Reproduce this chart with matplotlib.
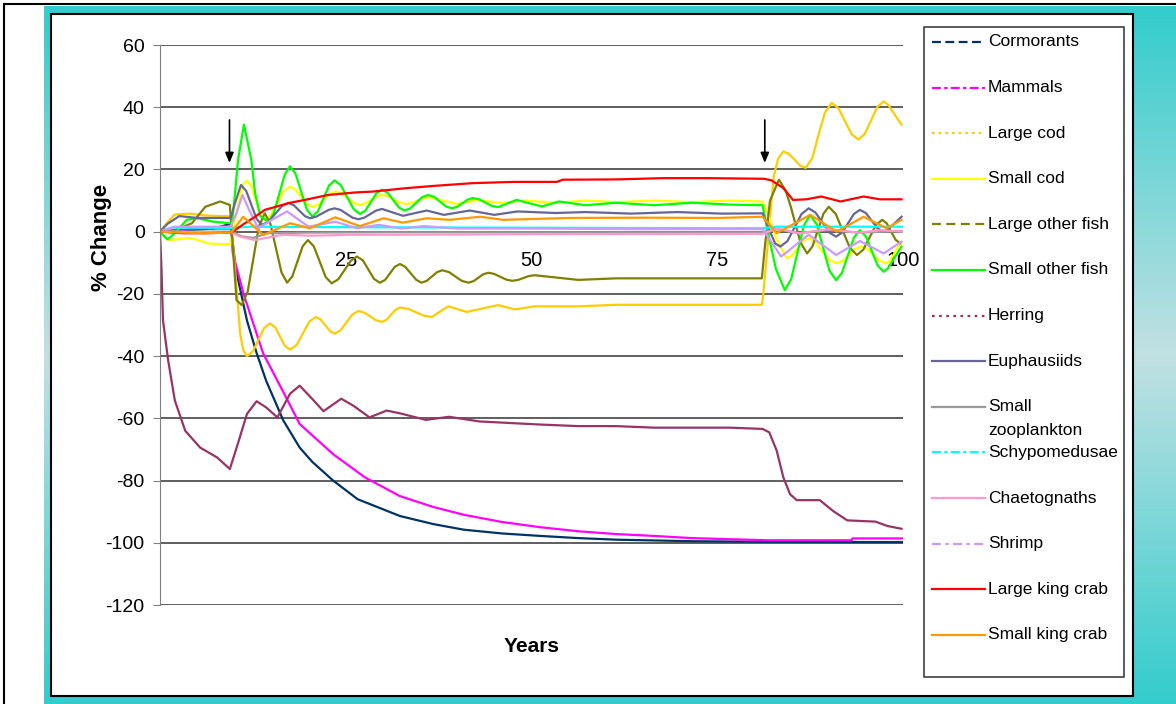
import numpy as np
import matplotlib
matplotlib.use("Agg")
import matplotlib.pyplot as plt
from matplotlib.lines import Line2D
from matplotlib.patches import Rectangle

plt.rcParams['font.family'] = ['Liberation Sans', 'DejaVu Sans']
plt.rcParams['axes.unicode_minus'] = False

# ---- data (years, % change) ----
cormorants_t = [0, 7.2, 9.5, 10.2, 11.7, 13.0, 14.3, 16.6, 18.8, 20.5, 23.3, 26.6, 32.3, 36.8,
                40.9, 46, 51.2, 56.3, 61.4, 71.6, 81.8, 100]
cormorants_v = [0, 1, 2.5, -12, -28.5, -39, -48, -60.7, -69.4, -74, -80, -86, -91.4, -94,
                -95.8, -97, -97.8, -98.5, -99, -99.5, -99.7, -99.8]

mammals_t = [0, 5.1, 9.6, 9.8, 11.3, 13.9, 16.7, 18.8, 23.3, 27.6, 32.3, 36.8, 40.9, 46,
             51.2, 56.3, 61.4, 66.5, 71.6, 81.8, 93.1, 93.2, 100]
mammals_v = [0, 1, 1, -7, -20.4, -39.2, -52, -61.8, -71.5, -79, -85, -88.5, -91, -93.3,
             -95, -96.3, -97.2, -97.8, -98.5, -99.2, -99.2, -98.6, -98.6]

large_cod_t = [0, 1, 2, 4.1, 6.1, 8.2, 9.5, 10.2, 10.8, 11.2, 11.7, 12.5, 14.0, 14.8, 15.5,
               16.8, 17.5, 18.4, 20.1, 21.0, 21.6, 22.9, 23.5, 24.3, 25.9, 26.7, 27.5, 29.1,
               29.9, 30.5, 31.7, 32.3, 33.4, 35.5, 36.6, 38.8, 41.3, 45.5, 47.8, 50.4, 56.3,
               61.4, 66.5, 71.6, 76.7, 81.0, 81.2, 82.6, 83.2, 83.9, 84.65, 86.15, 86.9, 87.8,
               88.5, 89.5, 90.4, 91.3, 93.1, 94.0, 94.85, 96.55, 97.4, 98.0, 99.2, 99.8]
large_cod_v = [0, 3, 5.5, 5.8, 5.2, 5.0, 5.0, -15, -33, -38, -40, -38.5, -31.0, -29.5, -30.7,
               -36.7, -37.9, -36.4, -28.9, -27.4, -28.2, -32.0, -32.8, -31.7, -26.6, -25.5, -26.0,
               -28.5, -29, -28.3, -25.1, -24.4, -24.8, -27.0, -27.4, -24, -25.8, -23.6, -25, -24,
               -24, -23.5, -23.5, -23.5, -23.5, -23.5, -20, 17.7, 23.5, 25.8, 25.0, 21.3, 20.5,
               23.6, 30, 38.3, 41.4, 39.7, 31.3, 29.6, 31.4, 40.1, 41.9, 40.8, 36.5, 34.4]

small_cod_t = [0, 0.5, 1.3, 4.1, 6.6, 8.2, 9.5, 10.2, 10.8, 11.2, 11.7, 12.3, 13.5, 14.1, 14.95,
               16.65, 17.5, 18.25, 19.75, 20.5, 21.3, 22.9, 23.7, 24.5, 26.1, 26.9, 27.65, 29.15,
               29.9, 30.7, 32.3, 33.1, 33.9, 35.5, 36.3, 39.9, 42.9, 45.7, 49.1, 53.2, 57.3,
               61.4, 66.5, 71.6, 76.7, 81.1, 81.8, 82.9, 84.4, 85.1, 85.9, 86.6, 87.3, 88.2,
               89.0, 90.1, 91.0, 91.85, 92.8, 93.55, 94.4, 95.25, 96.2, 96.95, 97.8, 98.3, 99.3, 99.8]
small_cod_v = [0, -1.5, -2.7, -2, -3.8, -4, -4, 5, 12, 15.3, 16.4, 14.6, 5.6, 3.8, 5.4,
               12.9, 14.5, 13.5, 9, 8, 8.7, 12.2, 12.9, 12.3, 9.2, 8.6, 9.1, 11.3,
               11.8, 11.4, 9.3, 8.9, 9.2, 10.8, 11.1, 8.9, 10.2, 9.2, 10, 9.3, 10,
               9.5, 10, 9.5, 10, 9.7, 6, -2, -8.6, -7.6, -5, -3.0, -2.1, -3.3,
               -6, -9.0, -10.2, -9.4, -7.5, -5.6, -4.8, -5.6, -8, -9.4, -10.2, -9.2, -5.0, -3.7]

large_other_t = [0, 2, 4.3, 6.1, 8.1, 9.4, 9.8, 10.3, 11.0, 11.8, 13.3, 14.1, 14.85, 16.35, 17.1,
                 17.8, 19.2, 19.9, 20.7, 22.3, 23.1, 24.0, 25.7, 26.5, 27.3, 28.8, 29.6, 30.3,
                 31.6, 32.3, 33.0, 34.5, 35.2, 35.9, 37.3, 38.0, 38.9, 40.6, 41.5, 42.2, 43.5,
                 44.2, 45.0, 46.6, 47.4, 48.2, 49.6, 50.4, 56.3, 61.4, 66.5, 71.6, 76.7, 81.0,
                 81.4, 82.1, 83.3, 84.2, 84.9, 86.2, 87.1, 87.8, 89.3, 90.0, 90.95, 92.85, 93.8,
                 94.65, 96.35, 97.2, 97.8, 99.0, 99.6]
large_other_v = [0, 0.5, 2.7, 8, 9.7, 8.6, -5, -22, -23.6, -19.3, 1.6, 5.9, 2.6, -13.1, -16.4,
                 -14.4, -4.7, -2.7, -4.7, -14.6, -16.6, -15.3, -9.3, -8, -9.2, -15.2, -16.4, -15.5,
                 -11.3, -10.4, -11.3, -15.5, -16.4, -15.8, -13.0, -12.4, -13.0, -15.8, -16.4, -15.9,
                 -13.7, -13.2, -13.6, -15.4, -15.8, -15.5, -14.3, -14, -15.5, -15, -15, -15, -15,
                 -15, -5, 10, 16.7, 13.2, 8, -3.5, -7, -4.8, 5.8, 8, 5.7, -5.2, -7.5,
                 -5.8, 2.1, 3.8, 2.7, -2.6, -3.7]

small_other_t = [0, 1, 2, 3.6, 5.1, 7.2, 9.5, 9.7, 10.1, 10.5, 11.3, 12.3, 12.8, 13.5, 14.6, 15.3,
                 16.8, 17.5, 18.25, 19.75, 20.5, 21.25, 22.75, 23.5, 24.35, 26.05, 26.9, 27.65,
                 29.15, 29.9, 30.65, 32.15, 32.9, 33.7, 35.3, 36.1, 36.9, 38.5, 39.3, 40.0, 41.4,
                 42.1, 42.95, 44.65, 45.5, 48.0, 51.4, 53.7, 57.3, 61.4, 66.5, 71.6, 76.7, 81.1,
                 81.8, 82.9, 84.1, 84.95, 86.65, 87.5, 88.4, 90.1, 91.0, 91.8, 93.4, 94.2, 95.0,
                 96.6, 97.4, 98.0, 99.8]
small_other_v = [0, -2.5, -0.5, 3.8, 4.3, 3.2, 2.7, 3, 12.4, 23, 34.4, 23, 12.4, 5, 3.2, 5.8,
                 18.4, 21, 18.6, 7.2, 4.8, 6.5, 14.8, 16.5, 14.9, 7.3, 5.7, 6.8,
                 12.4, 13.5, 12.5, 7.8, 6.8, 7.5, 11.1, 11.8, 11.2, 8.1, 7.5, 8.0, 10.3,
                 10.8, 10.4, 8.3, 7.9, 10.2, 8.1, 9.7, 8.5, 9.3, 8.5, 9.3, 8.7, 8.5,
                 0, -12, -18.8, -15.3, 1.9, 5.4, 2.3, -12.5, -15.6, -13.2, -1.9, 0.5, -1.5,
                 -10.9, -12.9, -11.7, -4.8]

herring_t = [0, 0.2, 0.4, 1.1, 2.0, 3.4, 5.4, 7.7, 9.4, 10.5, 11.7, 13.0, 14.3, 15.8, 17.5,
             18.8, 20.7, 22.0, 24.4, 26.0, 28.2, 30.5, 32.3, 35.8, 38.9, 43.0, 47.1, 51.2,
             56.3, 61.4, 66.5, 71.6, 76.7, 81.1, 82.0, 83.0, 83.9, 84.8, 85.7, 88.8, 90.6,
             92.5, 96.3, 97.9, 99.8]
herring_v = [0, -12, -28.5, -41.4, -54.3, -64, -69.4, -72.6, -76.3, -68, -58.6, -54.5, -56.5,
             -59.7, -52.1, -49.5, -54.3, -57.7, -53.7, -55.9, -59.7, -57.5, -58.4, -60.5,
             -59.5, -61, -61.5, -62, -62.5, -62.5, -63, -63, -63, -63.4, -64.5, -70.4, -79,
             -84.4, -86.3, -86.3, -89.8, -92.8, -93.2, -94.6, -95.5]

euph_t = [0, 1, 2.6, 5.1, 7.2, 9.5, 10.2, 10.9, 11.6, 13.0, 13.7, 14.6, 16.4, 17.3, 18.0, 19.5,
          20.2, 21.0, 22.7, 23.5, 24.3, 25.9, 26.7, 27.5, 29.1, 29.9, 32.7, 35.9, 38.2, 41.7,
          45.0, 48.1, 53.2, 57.3, 63.4, 69.6, 75.7, 81.1, 82.1, 82.8, 83.5, 84.45, 86.35, 87.3,
          88.2, 90.1, 91.0, 91.8, 93.4, 94.2, 95.0, 96.6, 97.4, 98.0, 99.8]
euph_v = [0, 2.5, 5, 4.4, 4.4, 4.4, 10, 15, 13.1, 4.1, 2.2, 3.2, 8.2, 9.2, 8.5, 5.0,
          4.3, 4.8, 7.0, 7.5, 7.0, 4.5, 4, 4.5, 6.8, 7.3, 5.1, 6.8, 5.4, 6.8,
          5.4, 6.5, 6, 6.3, 5.8, 6.3, 5.8, 5.9, 0, -3.8, -4.8, -3.0, 5.7, 7.5,
          6.2, -0.3, -1.6, -0.3, 5.7, 7, 6.0, 1.0, 0, 0.7, 4.8]

zoo_t = [0, 9.6, 11.0, 12.5, 14.5, 20, 30, 50, 81.1, 83, 86, 90, 94, 100]
zoo_v = [0, 0, -1.5, -2, -0.5, -0.3, -0.2, -0.2, -0.2, 0.8, -0.5, 0.5, -0.3, 0.2]

scypho_t = [0, 1.5, 9.6, 12, 30, 60, 81.1, 83, 100]
scypho_v = [0, 1.3, 1.2, 1.6, 1.4, 1.2, 1.1, 1.6, 1.6]

chaeto_t = [0, 9.6, 10.8, 12.8, 14.3, 16.4, 20.5, 25.6, 30.7, 50, 81.1, 83, 86, 90, 94, 97, 100]
chaeto_v = [0, -0.3, -1.6, -2.7, -2, -1, -1.3, -1, -1, -0.8, -0.7, 1, -0.5, 0.8, -0.3, 0.5, 0]

shrimp_t = [0, 2, 9.5, 10.3, 11.1, 12.0, 13.2, 15.2, 17.1, 20.0, 23.6, 26.5, 29.5, 32.5, 35.5,
            40, 50, 65, 81.1, 82.2, 83.6, 87.3, 91.0, 94.2, 97.4, 99.8]
shrimp_v = [0, 1.6, 1.6, 6, 11.8, 7, 1.1, 4, 6.5, 1.6, 3.2, 1.1, 2.2, 1, 1.8,
            1, 1, 0.8, 0.8, -3, -8, -1, -7.5, -3, -7, -3.2]

lkc_t = [0, 3.1, 6.1, 9.6, 11.3, 12.8, 14.1, 15.3, 17.3, 19.5, 22.6, 26.3, 28.7, 33.2, 36.8,
         42.1, 47.6, 53.4, 54.2, 61.4, 67.7, 73.7, 81.3, 82.3, 83.9, 85.2, 87.0, 89.0, 91.6,
         94.7, 96.9, 99.8]
lkc_v = [0, -0.5, -0.5, -0.3, 2.5, 4.8, 7, 7.8, 9.2, 10.2, 11.8, 12.6, 12.9, 14, 14.7,
         15.6, 16, 16, 16.7, 16.8, 17.2, 17.2, 17, 16.5, 14, 10.2, 10.4, 11.3, 9.7,
         11.3, 10.4, 10.4]

skc_t = [0, 3, 6, 9.6, 11.2, 13.9, 17.5, 20.2, 23.6, 26.9, 30.1, 32.7, 35.9, 39.0, 43.1, 46.2,
         55, 65, 75, 81.1, 83.0, 87.5, 91.1, 94.7, 97.8, 99.8]
skc_v = [0, -0.3, -0.5, -0.3, 4.8, -1.1, 2.7, 1.1, 4.6, 1.8, 4.3, 2.9, 4.3, 3.8, 4.8, 3.8,
         4.4, 4.5, 4.4, 4.8, -0.5, 5.4, 0, 4.8, 1.1, 3.8]

# name, x, y, colour, legend line style
series = [
    ("Cormorants", cormorants_t, cormorants_v, "#003366", (0, (4, 2))),
    ("Mammals", mammals_t, mammals_v, "#FF00FF", (0, (4, 1.5, 1.5, 1.5))),
    ("Large cod", large_cod_t, large_cod_v, "#FFCC00", (0, (1.2, 1.8))),
    ("Small cod", small_cod_t, small_cod_v, "#FFFF00", "-"),
    ("Large other fish", large_other_t, large_other_v, "#808000", (0, (4, 2.5))),
    ("Small other fish", small_other_t, small_other_v, "#00FF00", "-"),
    ("Herring", herring_t, herring_v, "#993366", (0, (1.2, 2))),
    ("Euphausiids", euph_t, euph_v, "#666699", "-"),
    ("Small\nzooplankton", zoo_t, zoo_v, "#999999", "-"),
    ("Schypomedusae", scypho_t, scypho_v, "#00FFFF", (0, (4, 1.5, 1.5, 1.5))),
    ("Chaetognaths", chaeto_t, chaeto_v, "#FF99CC", "-"),
    ("Shrimp", shrimp_t, shrimp_v, "#CC99FF", (0, (4, 2, 1.5, 2))),
    ("Large king crab", lkc_t, lkc_v, "#FF0000", "-"),
    ("Small king crab", skc_t, skc_v, "#FF9900", "-"),
]

W, H = 1176, 704


def fx(px):
    return px / W


def fy(py):
    return 1 - py / H


fig = plt.figure(figsize=(W / 100, H / 100), dpi=100)

# teal frame (lighter in the middle)
bg = fig.add_axes([fx(44), 0, 1 - fx(44), fy(6)], zorder=-3)
teal = np.array([0.20, 0.80, 0.80])
light = np.array([0.76, 0.88, 0.89])
f = np.abs(np.linspace(-1, 1, 200))[:, None, None]
bg.imshow(light + (teal - light) * f, aspect="auto", extent=[0, 1, 0, 1])
bg.axis("off")

# white panel and thin outer border
fig.add_artist(Rectangle((fx(51), fy(696)), fx(1133) - fx(51), fy(14) - fy(696),
                         transform=fig.transFigure, facecolor="white",
                         edgecolor="black", lw=1.5, zorder=-2))
fig.add_artist(Line2D([fx(4), fx(4)], [0, fy(4)], transform=fig.transFigure, color="black", lw=1.5))
fig.add_artist(Line2D([fx(4), 1], [fy(4), fy(4)], transform=fig.transFigure, color="black", lw=1.5))

# plot area
ax = fig.add_axes([fx(160), fy(605), fx(903) - fx(160), fy(45) - fy(605)])
ax.patch.set_alpha(0)

for name, t, v, c, ls in series:
    ax.plot(t, v, color=c, lw=1.6, solid_joinstyle="round")

ax.set_xlim(0, 100)
ax.set_ylim(-120, 60)
ax.set_yticks(np.arange(-120, 61, 20))
ax.set_xticks([25, 50, 75, 100])
ax.yaxis.grid(True, color="#333333", lw=1.1)
ax.set_axisbelow(True)

ax.spines["top"].set_visible(False)
ax.spines["right"].set_visible(False)
ax.spines["left"].set_color("#808080")
ax.spines["bottom"].set_position(("data", 0))
ax.spines["bottom"].set_visible(False)
ax.tick_params(axis="y", length=5, color="#808080", pad=6, labelsize=14)
ax.tick_params(axis="x", length=0, pad=14, labelsize=14.5)

# arrows marking the perturbations
for xa in [9.35, 81.4]:
    ax.annotate("", xy=(xa, 22.1), xytext=(xa, 35.9),
                arrowprops=dict(arrowstyle="-|>,head_length=0.6,head_width=0.25",
                                color="black", lw=1.2, shrinkA=0, shrinkB=0))

fig.text(fx(102), fy(237), "% Change", rotation=90, fontsize=16, fontweight="bold",
         ha="center", va="center")
fig.text(fx(532), fy(646), "Years", fontsize=15, fontweight="bold", ha="center", va="center")

# legend box on the right
fig.add_artist(Rectangle((fx(924), fy(677)), fx(1124) - fx(924), fy(27) - fy(677),
                         transform=fig.transFigure, facecolor="white",
                         edgecolor="#404040", lw=1.2))
for i, (name, t, v, c, ls) in enumerate(series):
    y = 42 + 45.6 * i
    fig.add_artist(Line2D([fx(932), fx(985)], [fy(y), fy(y)], transform=fig.transFigure,
                          color=c, lw=1.6, linestyle=ls))
    for k, part in enumerate(name.split("\n")):
        fig.text(fx(988), fy(y + 24 * k), part, fontsize=12.5, ha="left", va="center")

fig.savefig("out.png", dpi=100)
